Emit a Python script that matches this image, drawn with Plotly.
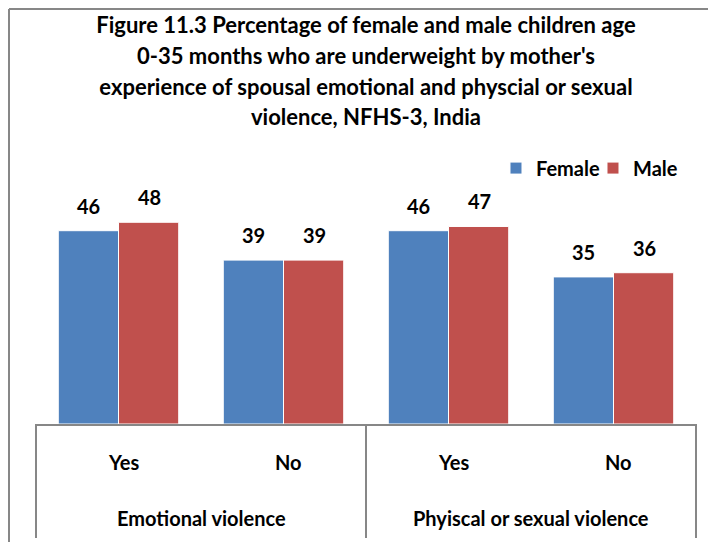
import plotly.graph_objects as go

# data
groups = ["Emotional violence", "Phyiscal or sexual violence"]
answers = ["Yes", "No"]
female = [46, 39, 46, 35]
male = [48, 39, 47, 36]
title_lines = [
    "Figure 11.3 Percentage of female and male children age",
    "0-35 months who are underweight by mother's",
    "experience of spousal emotional and physcial or sexual",
    "violence, NFHS-3, India",
]

cats = [g + " | " + a for g in groups for a in answers]
ans_labels = [a for g in groups for a in answers]

BLUE = "#4F81BD"
RED = "#C0504D"
GREY = "#878787"
FONT = "Lato"

fig = go.Figure()
fig.add_trace(go.Bar(x=cats, y=female, name="Female", legend="legend",
                     marker=dict(color=BLUE, line=dict(color="white", width=1))))
fig.add_trace(go.Bar(x=cats, y=male, name="Male", legend="legend2",
                     marker=dict(color=RED, line=dict(color="white", width=1))))

# value labels above bars
for i, c in enumerate(cats):
    for val, shift in ((female[i], -30.5), (male[i], 30.5)):
        fig.add_annotation(x=c, y=val, text=str(val), showarrow=False, xshift=shift,
                           yanchor="bottom", yshift=11,
                           font=dict(family=FONT, size=20, color="black", weight="bold"))

# category labels (inner level)
for c, a in zip(cats, ans_labels):
    fig.add_annotation(x=c, y=-0.19, yref="paper", text=a, showarrow=False, xshift=5,
                       font=dict(family=FONT, size=20, color="black", weight="bold"))

# group labels (outer level)
for k, g in enumerate(groups):
    fig.add_annotation(x=2 * k + 0.5, y=-0.394, yref="paper", text=g, showarrow=False,
                       font=dict(family=FONT, size=20, color="black", weight="bold"))

# table-style divider lines under the axis
for xp in (0, 0.5, 1):
    fig.add_shape(type="line", xref="paper", yref="paper", x0=xp, x1=xp, y0=0, y1=-0.416,
                  line=dict(color=GREY, width=2))

# chart area border (left and top edges visible)
fig.add_shape(type="line", xref="paper", yref="paper", x0=-0.0409, x1=-0.0409, y0=1.5146, y1=-0.5,
              line=dict(color=GREY, width=2))
fig.add_shape(type="line", xref="paper", yref="paper", x0=-0.0409, x1=1.06, y0=1.5146, y1=1.5146,
              line=dict(color=GREY, width=2))

legend_font = dict(family=FONT, size=20, color="black", weight="bold")

fig.update_layout(
    width=716, height=542,
    margin=dict(l=28, r=28, t=142, b=126),
    paper_bgcolor="white", plot_bgcolor="white",
    barmode="group", bargap=0.27, bargroupgap=0,
    title=dict(
        text="<br>".join('<span style="font-size:22px">%s</span>' % t for t in title_lines),
        x=0.5, xref="paper", xanchor="center", y=0.953, yref="container", yanchor="top",
        font=dict(family=FONT, size=23.5, color="black", weight="bold"),
    ),
    legend=dict(orientation="h", x=0.8621, xanchor="right", y=0.934, yanchor="middle",
                font=legend_font, bgcolor="rgba(0,0,0,0)"),
    legend2=dict(orientation="h", x=0.9803, xanchor="right", y=0.934, yanchor="middle",
                 font=legend_font, bgcolor="rgba(0,0,0,0)"),
    xaxis=dict(showticklabels=False, showline=True, linecolor=GREY, linewidth=2,
               ticks="", showgrid=False, zeroline=False),
    yaxis=dict(range=[0, 65.2], visible=False, showgrid=False, zeroline=False),
    showlegend=True,
)

fig.write_html("out.html")
